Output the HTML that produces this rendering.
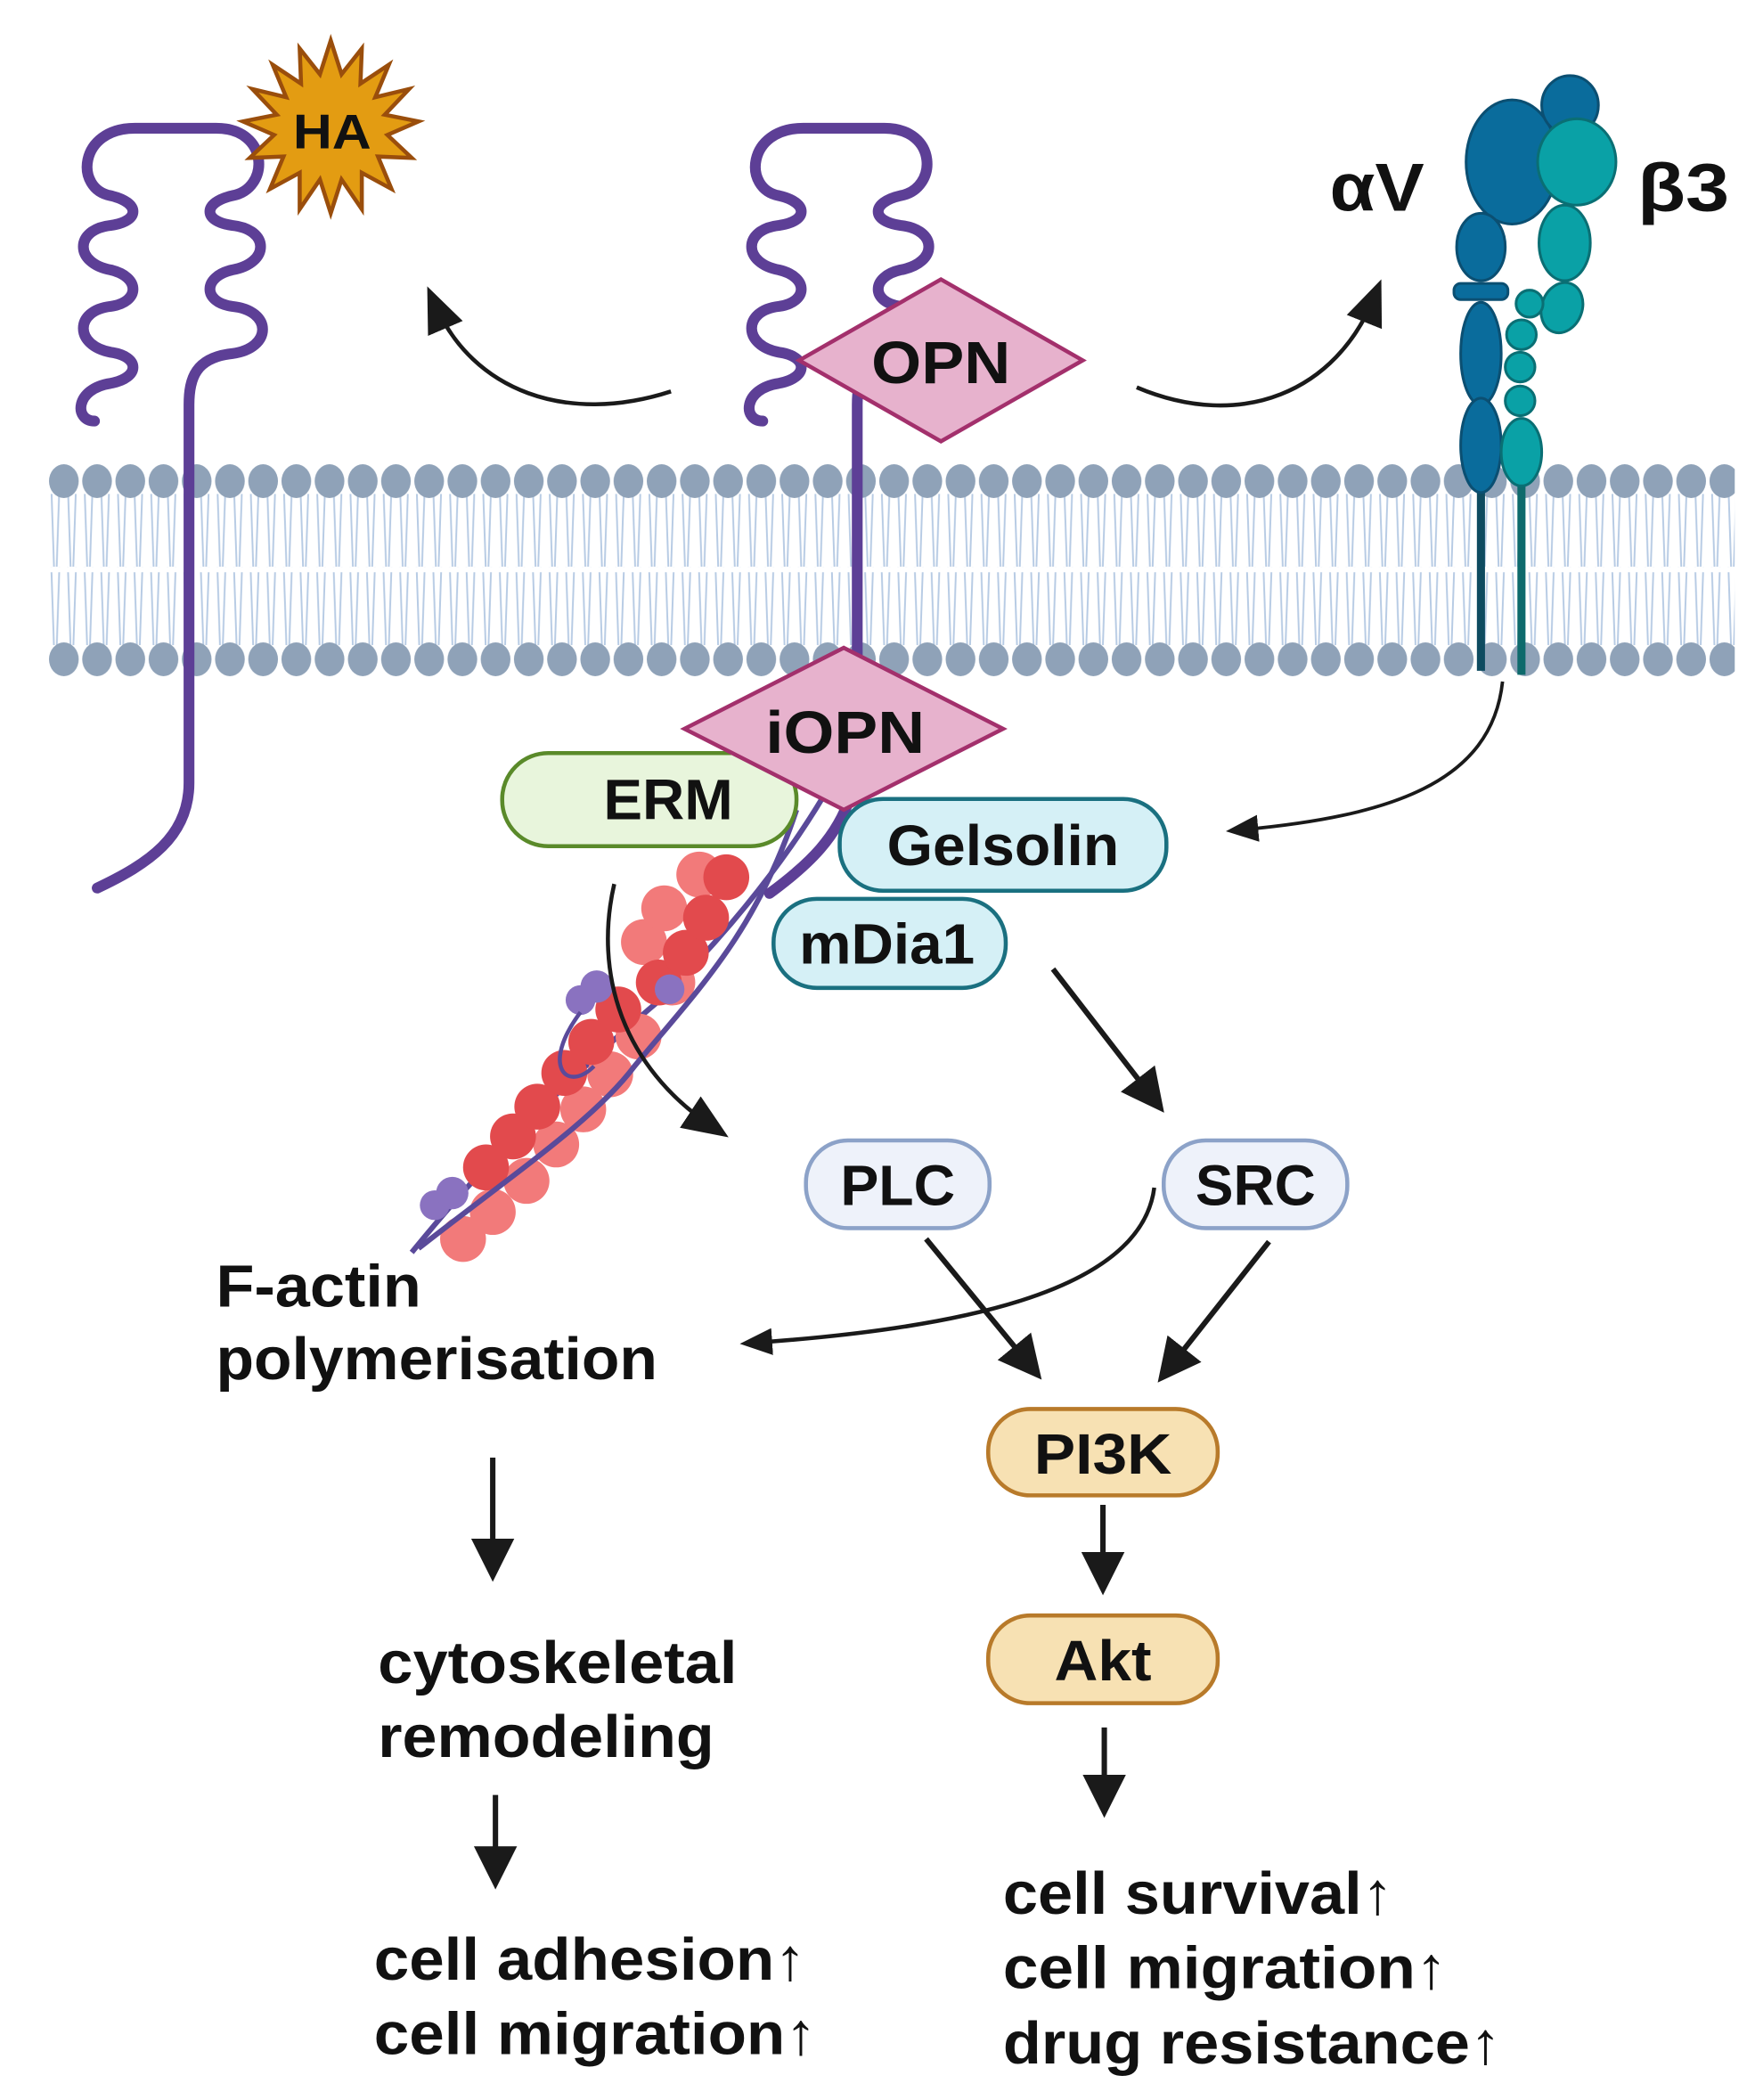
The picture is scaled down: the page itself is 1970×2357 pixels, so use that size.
<!DOCTYPE html>
<html><head><meta charset="utf-8"><style>
html,body{margin:0;padding:0;background:#fff}
svg{display:block}
text{font-family:"Liberation Sans",sans-serif;font-weight:bold;fill:#111}
</style></head><body>
<svg width="1970" height="2357" viewBox="0 0 1300 1556" preserveAspectRatio="none" xmlns="http://www.w3.org/2000/svg">
<defs>
<pattern id="heads" x="35" y="340" width="24.6" height="33" patternUnits="userSpaceOnUse">
<ellipse cx="12.3" cy="16.5" rx="11" ry="12.5" fill="#8fa2b8"/>
</pattern>
<pattern id="tails" x="35" y="0" width="12.3" height="60" patternUnits="userSpaceOnUse">
<path d="M3,0 L5,60 M9,0 L7,60" stroke="#b7cbe4" stroke-width="1.3" fill="none"/>
</pattern>
<marker id="ah" markerWidth="8" markerHeight="8" refX="5" refY="4" orient="auto" markerUnits="strokeWidth">
<path d="M0,0 L8,4 L0,8 z" fill="#1a1a1a"/>
</marker>
<marker id="ahc" markerWidth="36" markerHeight="36" refX="20" refY="18" orient="auto" markerUnits="userSpaceOnUse">
<path d="M0,4 L34,18 L0,32 z" fill="#1a1a1a"/>
</marker>
<marker id="ahs" markerWidth="26" markerHeight="26" refX="14" refY="13" orient="auto" markerUnits="userSpaceOnUse">
<path d="M0,3 L24,13 L0,23 z" fill="#1a1a1a"/>
</marker>
</defs>

<!-- membrane -->
<rect x="35" y="366" width="1250" height="54" fill="url(#tails)"/>
<rect x="35" y="424" width="1250" height="54" fill="url(#tails)"/>
<rect x="35" y="340" width="1250" height="33" fill="url(#heads)"/>
<rect x="35" y="472" width="1250" height="33" fill="url(#heads)"/>

<!-- left receptor -->
<path d="M70,312 C55,312 55,288 82,284 C104,280 104,264 82,261 C55,256 55,230 82,227 C104,224 104,205 82,200 C55,195 55,170 82,167 C104,164 104,150 82,145 C55,140 58,95 100,95 L160,95 C200,95 200,140 172,145 C150,150 150,164 172,167 C200,170 200,195 172,200 C150,205 150,224 172,227 C202,230 202,258 172,262 C145,265 140,280 140,300 L140,580 C140,620 110,640 72,658" fill="none" stroke="#5d3f96" stroke-width="8" stroke-linecap="round"/>
<!-- HA star -->
<polygon fill="#e39c12" stroke="#9a4e0c" stroke-width="3" points="245,30 253,55 268,36 267,62 288,48 278,72 303,66 285,85 310,90 287,100 305,117 280,116 290,140 268,128 268,155 253,133 245,158 237,133 222,155 222,128 200,140 210,116 185,117 203,100 180,90 205,85 187,66 212,72 202,48 223,62 222,36 237,55"/>
<text x="246" y="110" font-size="36" text-anchor="middle" textLength="58" lengthAdjust="spacingAndGlyphs">HA</text>

<!-- middle receptor -->
<path d="M565,312 C550,312 550,288 577,284 C599,280 599,264 577,261 C550,256 550,230 577,227 C599,224 599,205 577,200 C550,195 550,170 577,167 C599,164 599,150 577,145 C550,140 553,95 595,95 L655,95 C695,95 695,140 667,145 C645,150 645,164 667,167 C695,170 695,195 667,200 C645,205 645,224 667,227 C697,230 697,258 667,262 C640,265 635,280 635,300 L635,495" fill="none" stroke="#5d3f96" stroke-width="8" stroke-linecap="round"/>
<polygon points="592,267 697,207 802,267 697,327" fill="#e7b2cd" stroke="#a3306c" stroke-width="3"/>
<text x="697" y="284" font-size="44" text-anchor="middle" textLength="103" lengthAdjust="spacingAndGlyphs">OPN</text>

<!-- integrin -->
<line x1="1097" y1="330" x2="1097" y2="497" stroke="#0e4b60" stroke-width="6"/>
<line x1="1127" y1="330" x2="1127" y2="500" stroke="#0e6a6c" stroke-width="6"/>
<g stroke="#0b4f72" stroke-width="2" fill="#0a6c9c">
<ellipse cx="1120" cy="120" rx="34" ry="46"/>
<ellipse cx="1163" cy="78" rx="21" ry="22"/>
<ellipse cx="1097" cy="183" rx="18" ry="25"/>
<rect x="1077" y="210" width="40" height="12" rx="5"/>
<ellipse cx="1097" cy="262" rx="15" ry="38"/>
<ellipse cx="1097" cy="330" rx="15" ry="35"/>
</g>
<g stroke="#0a6f74" stroke-width="2" fill="#0aa1a6">
<ellipse cx="1168" cy="120" rx="29" ry="32"/>
<ellipse cx="1159" cy="180" rx="19" ry="28"/>
<ellipse cx="1157" cy="228" rx="15" ry="19" transform="rotate(20 1157 228)"/>
<circle cx="1133" cy="225" r="10"/>
<circle cx="1127" cy="248" r="11"/>
<circle cx="1126" cy="272" r="11"/>
<circle cx="1126" cy="297" r="11"/>
<ellipse cx="1127" cy="335" rx="15" ry="25"/>
</g>
<text x="985" y="156" font-size="50" textLength="70" lengthAdjust="spacingAndGlyphs">αV</text>
<text x="1213" y="156" font-size="50" textLength="68" lengthAdjust="spacingAndGlyphs">β3</text>

<!-- top arrows -->
<path d="M497,290 C420,315 350,290 322,225" fill="none" stroke="#1a1a1a" stroke-width="3" marker-end="url(#ahc)"/>
<path d="M842,287 C920,320 990,290 1018,220" fill="none" stroke="#1a1a1a" stroke-width="3" marker-end="url(#ahc)"/>

<!-- F-actin -->
<g>
<path d="M305,928 C360,860 430,790 490,740 C540,690 580,640 610,590" fill="none" stroke="#5a4a9a" stroke-width="4"/>
<g fill="#f27a7a">
<circle cx="343" cy="918" r="17"/><circle cx="365" cy="898" r="17"/><circle cx="390" cy="875" r="17"/><circle cx="412" cy="848" r="17"/><circle cx="432" cy="822" r="17"/><circle cx="452" cy="796" r="17"/><circle cx="473" cy="768" r="17"/><circle cx="498" cy="728" r="17"/><circle cx="477" cy="698" r="17"/><circle cx="492" cy="673" r="17"/><circle cx="518" cy="648" r="17"/>
</g>
<g fill="#e24a4d">
<circle cx="360" cy="865" r="17"/><circle cx="380" cy="842" r="17"/><circle cx="398" cy="820" r="17"/><circle cx="418" cy="795" r="17"/><circle cx="438" cy="772" r="17"/><circle cx="458" cy="748" r="17"/><circle cx="488" cy="728" r="17"/><circle cx="508" cy="706" r="17"/><circle cx="523" cy="680" r="17"/><circle cx="538" cy="650" r="17"/>
</g>
<g fill="#8a72c0"><circle cx="322" cy="893" r="11"/><circle cx="335" cy="884" r="12"/><circle cx="430" cy="741" r="11"/><circle cx="442" cy="731" r="12"/><circle cx="496" cy="733" r="11"/></g>
<path d="M310,925 C380,870 440,830 470,790 C520,730 560,690 590,600" fill="none" stroke="#5a4a9a" stroke-width="4"/>
<path d="M430,750 C400,790 420,810 440,790" fill="none" stroke="#5a4a9a" stroke-width="3"/>
</g>

<!-- iOPN and pills -->
<path d="M570,662 C600,640 620,620 630,590" fill="none" stroke="#5d3f96" stroke-width="8" stroke-linecap="round"/>
<rect x="372" y="558" width="218" height="69" rx="34" fill="#e8f5dc" stroke="#5a8a2a" stroke-width="3"/>
<text x="495" y="607" font-size="42" text-anchor="middle" textLength="96" lengthAdjust="spacingAndGlyphs">ERM</text>
<polygon points="507,540 625,480 743,540 625,600" fill="#e7b2cd" stroke="#a3306c" stroke-width="3"/>
<text x="626" y="558" font-size="44" text-anchor="middle" textLength="118" lengthAdjust="spacingAndGlyphs">iOPN</text>
<rect x="622" y="592" width="242" height="68" rx="32" fill="#d5f0f6" stroke="#1a7080" stroke-width="3"/>
<text x="743" y="641" font-size="42" text-anchor="middle" textLength="172" lengthAdjust="spacingAndGlyphs">Gelsolin</text>
<rect x="573" y="666" width="172" height="66" rx="32" fill="#d5f0f6" stroke="#1a7080" stroke-width="3"/>
<text x="657" y="714" font-size="42" text-anchor="middle" textLength="130" lengthAdjust="spacingAndGlyphs">mDia1</text>

<!-- integrin -> Gelsolin -->
<path d="M1113,505 C1105,580 1030,605 918,615" fill="none" stroke="#1a1a1a" stroke-width="2.5" marker-end="url(#ahs)"/>
<!-- ERM -> PLC curve -->
<path d="M455,655 C440,720 460,790 528,835" fill="none" stroke="#1a1a1a" stroke-width="3" marker-end="url(#ahc)"/>

<rect x="597" y="845" width="136" height="65" rx="31" fill="#eef2fa" stroke="#8ca2c8" stroke-width="3"/>
<text x="665" y="893" font-size="42" text-anchor="middle" textLength="85" lengthAdjust="spacingAndGlyphs">PLC</text>
<rect x="862" y="845" width="136" height="65" rx="31" fill="#eef2fa" stroke="#8ca2c8" stroke-width="3"/>
<text x="930" y="893" font-size="42" text-anchor="middle" textLength="89" lengthAdjust="spacingAndGlyphs">SRC</text>

<g stroke="#1a1a1a" stroke-width="4" fill="none">
<line x1="780" y1="718" x2="855" y2="815" marker-end="url(#ah)"/>
<line x1="686" y1="918" x2="764" y2="1013" marker-end="url(#ah)"/>
<line x1="940" y1="920" x2="865" y2="1015" marker-end="url(#ah)"/>
<path d="M855,880 C845,960 700,985 558,995" stroke-width="3" marker-end="url(#ahs)"/>
<line x1="365" y1="1080" x2="365" y2="1160" marker-end="url(#ah)"/>
<line x1="817" y1="1115" x2="817" y2="1170" marker-end="url(#ah)"/>
<line x1="818" y1="1280" x2="818" y2="1335" marker-end="url(#ah)"/>
<line x1="367" y1="1330" x2="367" y2="1388" marker-end="url(#ah)"/>
</g>

<rect x="732" y="1044" width="170" height="64" rx="31" fill="#f7e1b3" stroke="#b87a2a" stroke-width="3"/>
<text x="817" y="1092" font-size="42" text-anchor="middle" textLength="102" lengthAdjust="spacingAndGlyphs">PI3K</text>
<rect x="732" y="1197" width="170" height="65" rx="31" fill="#f7e1b3" stroke="#b87a2a" stroke-width="3"/>
<text x="817" y="1245" font-size="42" text-anchor="middle" textLength="72" lengthAdjust="spacingAndGlyphs">Akt</text>

<g font-size="44">
<text x="160" y="968" textLength="152" lengthAdjust="spacingAndGlyphs">F-actin</text>
<text x="160" y="1022" textLength="327" lengthAdjust="spacingAndGlyphs">polymerisation</text>
<text x="280" y="1247" textLength="266" lengthAdjust="spacingAndGlyphs">cytoskeletal</text>
<text x="280" y="1302" textLength="249" lengthAdjust="spacingAndGlyphs">remodeling</text>
<text x="277" y="1467" textLength="320" lengthAdjust="spacingAndGlyphs">cell adhesion↑</text>
<text x="277" y="1522" textLength="328" lengthAdjust="spacingAndGlyphs">cell migration↑</text>
<text x="743" y="1418" textLength="289" lengthAdjust="spacingAndGlyphs">cell survival↑</text>
<text x="743" y="1473" textLength="329" lengthAdjust="spacingAndGlyphs">cell migration↑</text>
<text x="743" y="1529" textLength="369" lengthAdjust="spacingAndGlyphs">drug resistance↑</text>
</g>
</svg>
</body></html>
